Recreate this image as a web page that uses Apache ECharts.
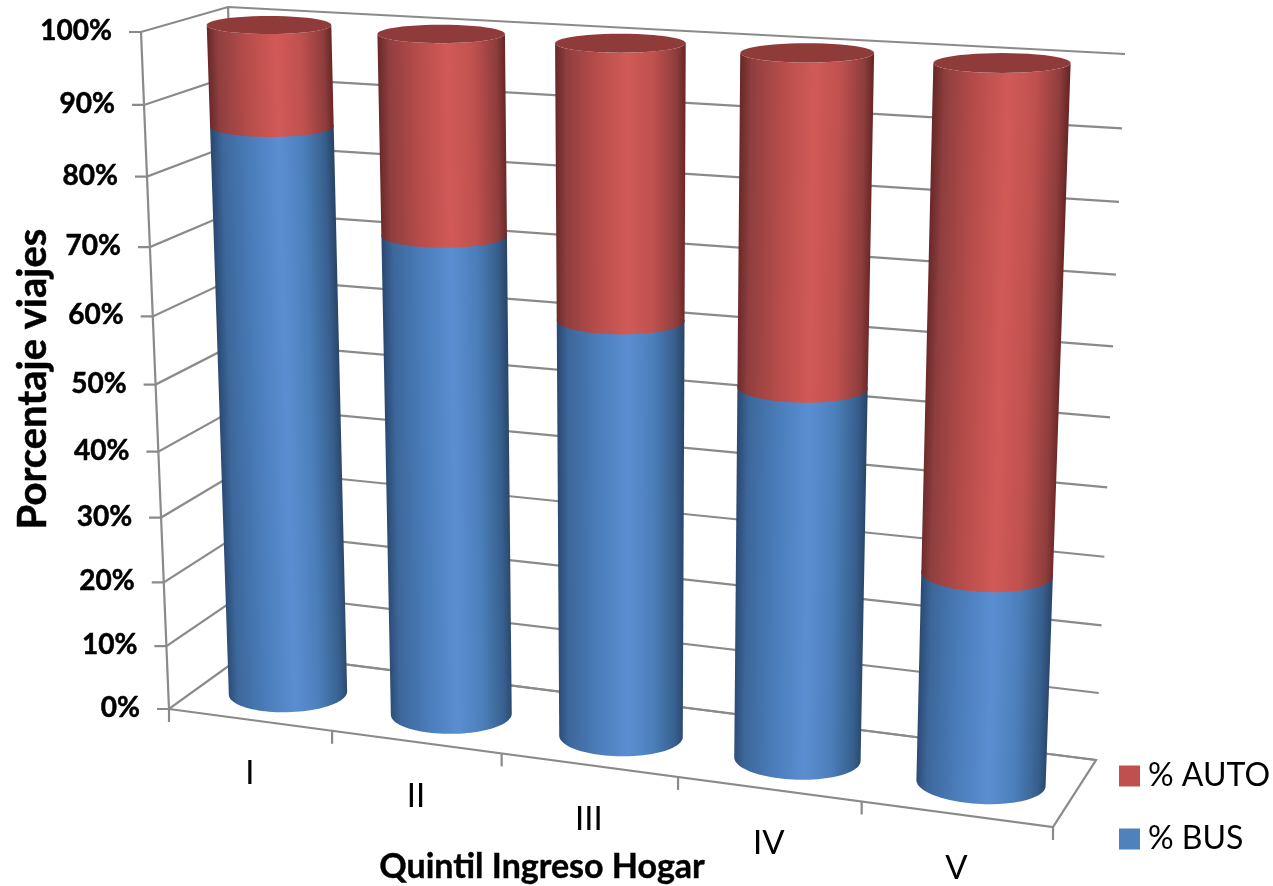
<!DOCTYPE html>
<html><head><meta charset="utf-8">
<style>html,body{margin:0;padding:0;background:#fff}#c{width:1273px;height:886px}</style>
<script src="https://cdn.jsdelivr.net/npm/echarts@6/dist/echarts.min.js"></script>
</head><body><div id="c"></div>
<script>
const categories = ['I','II','III','IV','V'];
const busValues = [85.5,71.5,61.3,54,30.2];
const autoValues = [14.5,28.5,38.7,46,69.8];
const valueTicks = [0,10,20,30,40,50,60,70,80,90,100];
const yAxisTitle = 'Porcentaje viajes';
const xAxisTitle = 'Quintil Ingreso Hogar';
const busName = '% BUS';
const autoName = '% AUTO';

/* perspective planes: unit square -> quad (bottom-left, bottom-right, top-right, top-left) */
function quadMap(q){
  const [x0,y0]=q[0],[x1,y1]=q[1],[x2,y2]=q[2],[x3,y3]=q[3];
  const dx1=x1-x2,dx2=x3-x2,dx3=x0-x1+x2-x3,dy1=y1-y2,dy2=y3-y2,dy3=y0-y1+y2-y3;
  const den=dx1*dy2-dx2*dy1;
  const g=(dx3*dy2-dx2*dy3)/den,h=(dx1*dy3-dx3*dy1)/den;
  const a=x1-x0+g*x1,b=x3-x0+h*x3,d=y1-y0+g*y1,e=y3-y0+h*y3;
  return (s,t)=>{const w=g*s+h*t+1;return [(a*s+b*t+x0)/w,(d*s+e*t+y0)/w];};
}
const backWall = quadMap([[248,652],[1096,760],[1125,54],[228,7]]);
const leftWall = quadMap([[169,709],[248,652],[228,7],[141,32]]);
const floorPlane = quadMap([[169,709],[1053,827],[1096,760],[248,652]]);
const barPlane = quadMap([[288,693],[981,783],[1002,63],[269,25]]);
function frontEdge(s){
  const g=-0.095,l=s*(1+g)/(1+g*s);
  return [169+l*(1053-169),709+l*(827-709)];
}

const GRID='#8a8a8a', TXT='#000';
const lineStyle={stroke:GRID,lineWidth:2.2,fill:null};
const RADIUS=0.345;
const RED=[[0,'#6a2a29'],[0.08,'#8f3f3e'],[0.3,'#b54c4a'],[0.55,'#d15a57'],[0.75,'#bf514f'],[0.93,'#8e3d3c'],[1,'#672625']];
const BLUE=[[0,'#2c4b74'],[0.08,'#3c679b'],[0.3,'#4a7cb9'],[0.55,'#5a8ed2'],[0.75,'#4c80bb'],[0.93,'#375f8e'],[1,'#2a4568']];

function polyline(pts,style){return {type:'polyline',silent:true,shape:{points:pts},style:style||lineStyle};}

function renderFrame(params,api){
  if(params.dataIndex!==0) return {type:'group',children:[]};
  const r=params.coordSys, kids=[];
  const tOf=v=>(r.y+r.height-api.coord([0,v])[1])/r.height;
  const band=api.size([1,0])[0];
  const sOfEdge=i=>(api.coord([i,0])[0]-band/2-r.x)/r.width;
  valueTicks.forEach(v=>{
    const t=tOf(v),a=leftWall(0,t),b=leftWall(1,t),c=backWall(1,t);
    kids.push(polyline([[a[0]-12,a[1]],a,b,c]));
    kids.push({type:'text',silent:true,style:{text:v+'%',x:a[0]-29,y:a[1]-1,align:'right',verticalAlign:'middle',
      font:'bold 28px Lato',fill:TXT,stroke:TXT,lineWidth:0.5}});
  });
  kids.push(polyline([leftWall(0,1),leftWall(0,0)]));
  kids.push(polyline([leftWall(1,1),leftWall(1,0)]));
  kids.push(polyline([floorPlane(0,0),floorPlane(1,0),floorPlane(1,1),floorPlane(0,1)]));
  categories.forEach((c,i)=>{
    const p=frontEdge(sOfEdge(i));
    kids.push(polyline([p,[p[0],p[1]+13]]));
    const m=frontEdge(sOfEdge(i)+band/r.width/2);
    kids.push({type:'text',silent:true,style:{text:c,x:m[0],y:m[1]+54,align:'center',verticalAlign:'middle',
      font:'33px Lato',fill:TXT}});
  });
  const p=frontEdge(1);
  kids.push(polyline([p,[p[0],p[1]+13]]));
  kids.push({type:'text',silent:true,rotation:Math.PI/2,x:33,y:379,style:{text:yAxisTitle,x:0,y:0,align:'center',verticalAlign:'middle',
    font:'bold 40px Lato',fill:TXT,stroke:TXT,lineWidth:0.5}});
  kids.push({type:'text',silent:true,style:{text:xAxisTitle,x:542,y:867,align:'center',verticalAlign:'middle',
    font:'bold 34px Lato',fill:TXT,stroke:TXT,lineWidth:0.4}});
  return {type:'group',children:kids};
}

function ellipseArc(map,s,hs,t,from,to){
  const L=map(s-hs,t),R=map(s+hs,t),C=map(s,t);
  const ax=(R[0]-L[0])/2;
  const ay=ax*(1-t)*(-0.025+0.07*s);
  const b=Math.abs(ax)*(0.145+0.18*(1-t));
  const pts=[];
  for(let k=0;k<=48;k++){
    const a=from+(to-from)*k/48;
    pts.push([C[0]+Math.cos(a)*ax,C[1]+Math.cos(a)*ay+Math.sin(a)*b]);
  }
  return pts;
}
function sideGradient(L,R,top,bot,stops){
  const dx=top[0]-bot[0],dy=top[1]-bot[1],n=Math.hypot(dx,dy);
  const nx=-dy/n,ny=dx/n;
  const w=(R[0]-L[0])*nx+(R[1]-L[1])*ny;
  return new echarts.graphic.LinearGradient(L[0],L[1],L[0]+nx*w,L[1]+ny*w,
    stops.map(s=>({offset:s[0],color:s[1]})),true);
}
function cylinderSegment(stops,isTop){
  return function(params,api){
    const i=api.value(0),lo=api.value(1),hi=api.value(2);
    const c0=api.coord([0,0]),c4=api.coord([4,100]);
    const band=api.size([1,0])[0];
    const f=api.coord([i,lo]),g=api.coord([i,hi]);
    const s=(f[0]-c0[0])/(c4[0]-c0[0]);
    const hs=RADIUS*band/(c4[0]-c0[0])*(1+0.07*(1-s));
    const t0=(c0[1]-f[1])/(c0[1]-c4[1]),t1=(c0[1]-g[1])/(c0[1]-c4[1]);
    const low=ellipseArc(barPlane,s,hs,t0,Math.PI,0);      /* lower half, left to right */
    const up=isTop
      ? ellipseArc(barPlane,s,hs,t1,0,Math.PI)             /* front of the rim, right to left */
      : ellipseArc(barPlane,s,hs,t1,0,-Math.PI);           /* back half, hidden under next segment */
    const tm=(t0+t1)/2;
    const fill=sideGradient(barPlane(s-hs,tm),barPlane(s+hs,tm),barPlane(s,t1),barPlane(s,t0),stops);
    const kids=[{type:'polygon',silent:true,shape:{points:low.concat(up)},style:{fill:fill}}];
    if(isTop){
      kids.push({type:'polygon',silent:true,shape:{points:ellipseArc(barPlane,s,hs,t1,0,Math.PI*2)},
        style:{fill:'#8e3b3a'}});
    }
    return {type:'group',children:kids};
  };
}

const chart=echarts.init(document.getElementById('c'),null,{renderer:'canvas'});
chart.setOption({
  animation:false,
  backgroundColor:'#fff',
  grid:{left:100,top:60,width:1000,height:700},
  xAxis:{type:'category',data:categories,show:false},
  yAxis:{type:'value',min:0,max:100,interval:10,show:false},
  legend:{show:true,orient:'vertical',left:1119,top:760,padding:0,itemWidth:21,itemHeight:21,itemGap:31,
    data:[{name:autoName,icon:'rect'},{name:busName,icon:'rect'}],
    textStyle:{fontFamily:'Lato',fontSize:32,color:TXT,padding:[0,0,0,3]},selectedMode:false},
  series:[
    {type:'custom',coordinateSystem:'cartesian2d',clip:false,silent:true,z:1,
     data:categories.map((c,i)=>[i,0]),renderItem:renderFrame,encode:{x:0,y:1}},
    {type:'custom',name:busName,coordinateSystem:'cartesian2d',clip:false,silent:true,z:2,
     itemStyle:{color:'#4f81bd'},
     data:categories.map((c,i)=>[i,0,busValues[i]]),renderItem:cylinderSegment(BLUE,false),encode:{x:0,y:[1,2]}},
    {type:'custom',name:autoName,coordinateSystem:'cartesian2d',clip:false,silent:true,z:3,
     itemStyle:{color:'#c0504d'},
     data:categories.map((c,i)=>[i,busValues[i],busValues[i]+autoValues[i]]),renderItem:cylinderSegment(RED,true),encode:{x:0,y:[1,2]}}
  ]
});
</script></body></html>
